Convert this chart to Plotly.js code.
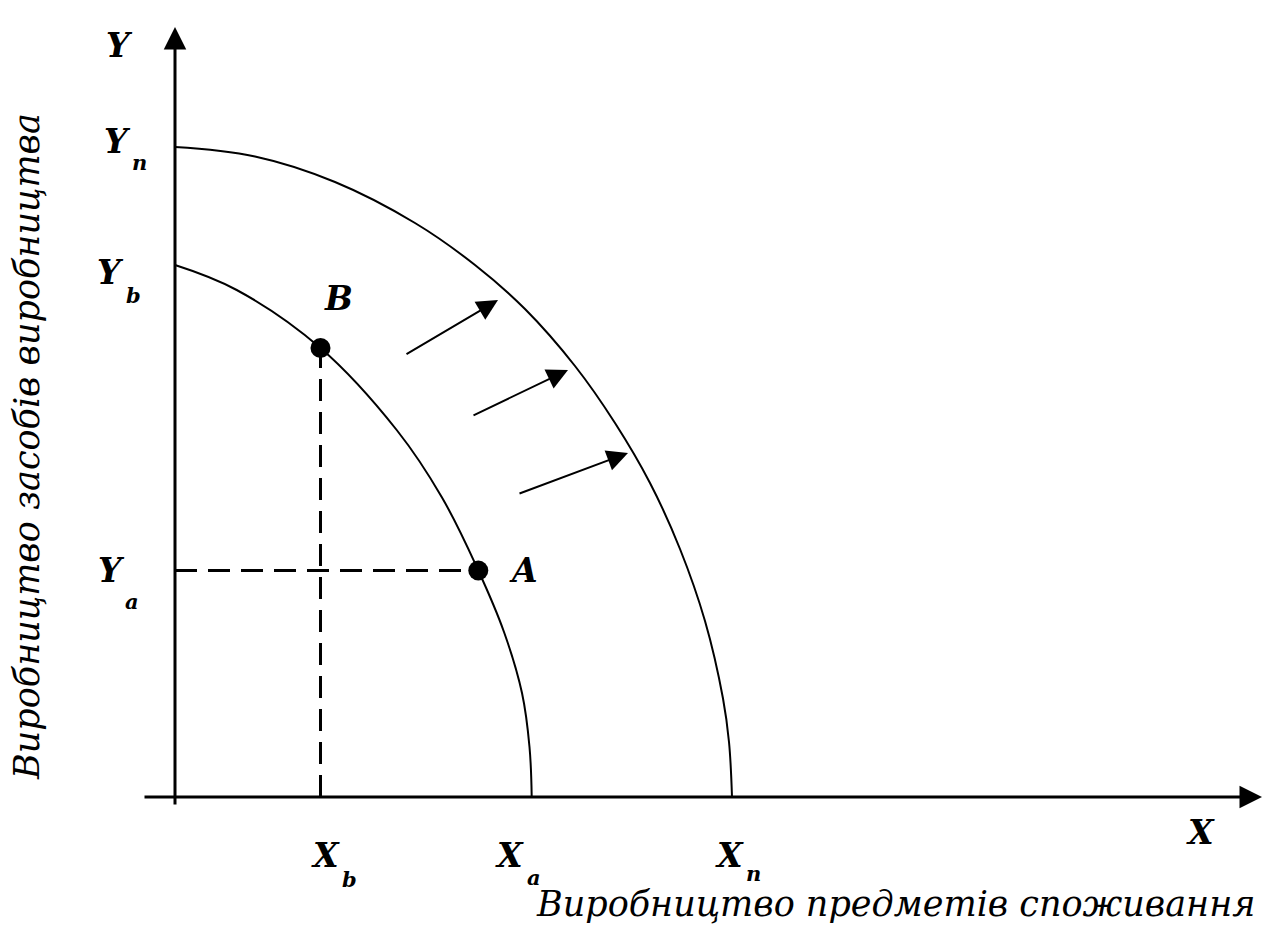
<!DOCTYPE html>
<html><head><meta charset="utf-8">
<script src="https://cdn.plot.ly/plotly-3.0.1.min.js"></script>
<style>html,body{margin:0;padding:0;background:#fff}</style>
</head><body><div id="chart" style="width:1279px;height:932px"></div>
<script>
// ---- data (arbitrary units, origin at intersection of axes) ----
const innerX = [0, 6.17, 14.55, 22.17, 26.7, 30.33, 32.9, 34.7, 35.45, 35.67];
const innerY = [53.2, 50.7, 44.9, 36.7, 29.95, 22.65, 16.5, 10.4, 5.0, 0];
const outerX = [0, 8.0, 16.0, 24.0, 30.0, 35.0, 40.0, 44.0, 47.5, 50.5, 53.0, 54.8, 55.4, 55.7];
const outerY = [65.0, 64.05, 61.5, 57.4, 53.2, 48.8, 43.1, 37.4, 31.4, 24.8, 17.6, 9.85, 5.5, 0];
const pointNames = ['B', 'A'];
const pointX = [14.55, 30.33];
const pointY = [44.9, 22.65];
const shiftFromX = [23.0, 29.7, 34.3];
const shiftFromY = [44.2, 38.1, 30.3];
const shiftToX = [32.3, 39.3, 45.3];
const shiftToY = [49.7, 42.7, 34.4];
const xTickMain = ['X', 'X', 'X'];
const xTickSub = ['b', 'a', 'n'];
const xTickVals = [14.55, 35.67, 55.7];
const yTickMain = ['Y', 'Y', 'Y'];
const yTickSub = ['n', 'b', 'a'];
const yTickVals = [65.0, 53.2, 22.65];
const xAxisEnd = [-3.2, 108.7];
const yAxisEnd = [-0.9, 77.0];
const xAxisName = 'X';
const yAxisName = 'Y';
const xTitle = 'Виробництво предметів споживання';
const yTitle = 'Виробництво засобів виробництва';

// ---- styles ----
const labelFont = {family: 'DejaVu Serif', size: 33, color: '#000', weight: 'bold', style: 'italic'};
const subFont = {family: 'DejaVu Serif', size: 21, color: '#000', weight: 'bold', style: 'italic'};
const titleFont = {family: 'DejaVu Serif', size: 35, color: '#000', style: 'italic'};

const traces = [
  {x: innerX, y: innerY, mode: 'lines', line: {color: '#000', width: 2, shape: 'spline', smoothing: 1.1}, hoverinfo: 'skip'},
  {x: outerX, y: outerY, mode: 'lines', line: {color: '#000', width: 2, shape: 'spline', smoothing: 1.1}, hoverinfo: 'skip'},
  {x: [0, pointX[1]], y: [pointY[1], pointY[1]], mode: 'lines', line: {color: '#000', width: 3, dash: '22px,11px'}, hoverinfo: 'skip'},
  {x: [pointX[0], pointX[0]], y: [0, pointY[0]], mode: 'lines', line: {color: '#000', width: 3, dash: '22px,11px'}, hoverinfo: 'skip'},
  {x: pointX, y: pointY, mode: 'markers', marker: {color: '#000', size: 20}, hoverinfo: 'skip'}
];

const ann = [];
function arrow(x0, y0, x1, y1, w, s) {
  ann.push({x: x1, y: y1, ax: x0, ay: y0, xref: 'x', yref: 'y', axref: 'x', ayref: 'y',
    text: '', showarrow: true, arrowhead: 2, arrowsize: s, arrowwidth: w, arrowcolor: '#000', standoff: 0});
}
function label(x, y, text, font, dx, dy, extra) {
  ann.push(Object.assign({x: x, y: y, xref: 'x', yref: 'y', text: text, showarrow: false, font: font,
    xanchor: 'center', yanchor: 'middle', xshift: dx, yshift: dy, borderpad: 0}, extra || {}));
}
// axes
arrow(0, yAxisEnd[0], 0, yAxisEnd[1], 3, 1.5);
arrow(xAxisEnd[0], 0, xAxisEnd[1], 0, 3, 1.5);
// shift arrows
for (let i = 0; i < shiftFromX.length; i++) arrow(shiftFromX[i], shiftFromY[i], shiftToX[i], shiftToY[i], 2, 2.1);

// axis names
label(0, yAxisEnd[1], yAxisName, labelFont, -56, -18);
label(xAxisEnd[1], 0, xAxisName, labelFont, -62, -35);

// y tick labels (main letter + subscript)
const yMainShift = [[-58, 6], [-65, -7], [-64, 0]];
const ySubShift = [[-36, -15], [-42, -30], [-43, -31]];
for (let i = 0; i < yTickVals.length; i++) {
  label(0, yTickVals[i], yTickMain[i], labelFont, yMainShift[i][0], yMainShift[i][1]);
  label(0, yTickVals[i], yTickSub[i], subFont, ySubShift[i][0], ySubShift[i][1]);
}
// x tick labels
const xMainShift = [[5, -58], [-22, -58], [-3, -58]];
const xSubShift = [[29, -82], [2, -80], [21, -76]];
for (let i = 0; i < xTickVals.length; i++) {
  label(xTickVals[i], 0, xTickMain[i], labelFont, xMainShift[i][0], xMainShift[i][1]);
  label(xTickVals[i], 0, xTickSub[i], subFont, xSubShift[i][0], xSubShift[i][1]);
}
// point labels
const pointLabelShift = [[18, 50], [45, 0]];
for (let i = 0; i < pointNames.length; i++) {
  label(pointX[i], pointY[i], pointNames[i], labelFont, pointLabelShift[i][0], pointLabelShift[i][1]);
}
// titles
ann.push({x: 0.6998, y: 0.030, xref: 'paper', yref: 'paper', text: xTitle, showarrow: false,
  font: titleFont, xanchor: 'center', yanchor: 'middle', borderpad: 0});
ann.push({x: 0.0211, y: 0.5215, xref: 'paper', yref: 'paper', text: yTitle, showarrow: false,
  font: titleFont, xanchor: 'center', yanchor: 'middle', textangle: -90, borderpad: 0});

const layout = {
  width: 1279, height: 932, margin: {l: 0, r: 0, t: 0, b: 0},
  paper_bgcolor: '#fff', plot_bgcolor: '#fff', showlegend: false,
  xaxis: {range: [-17.5, 110.4], visible: false, fixedrange: true},
  yaxis: {range: [-13.5, 79.7], visible: false, fixedrange: true},
  annotations: ann
};
Plotly.newPlot('chart', traces, layout, {displayModeBar: false, staticPlot: true});
</script>
</body></html>
